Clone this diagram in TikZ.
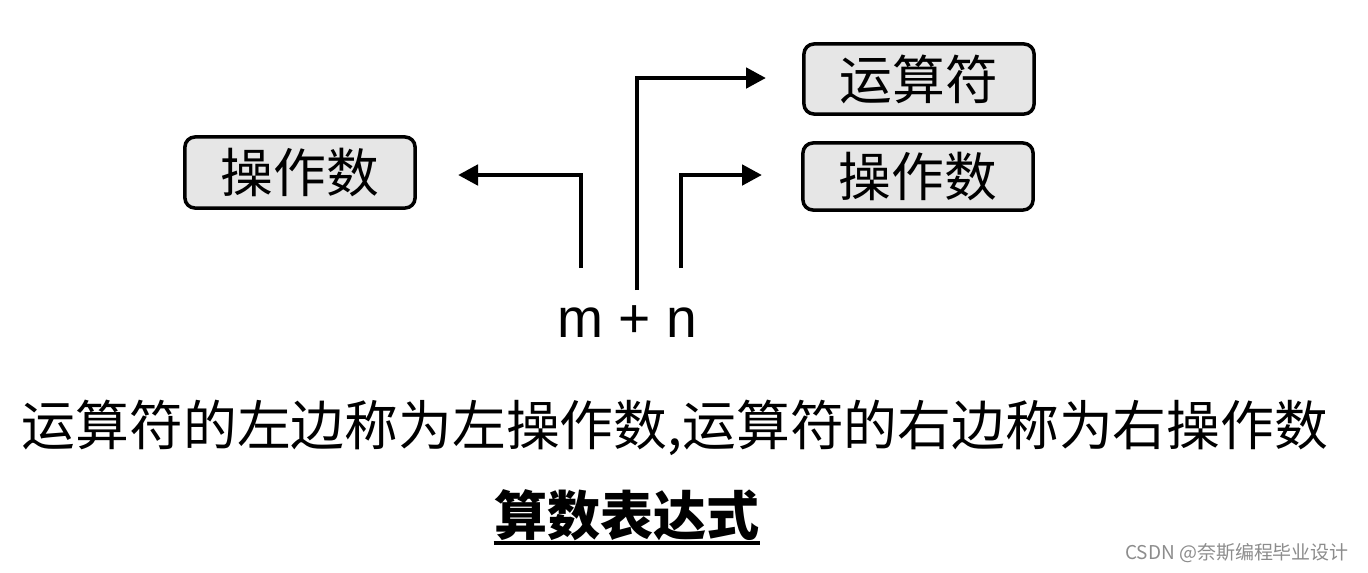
\documentclass[tikz,border=0pt]{standalone}
\usepackage{fontspec}
\newfontfamily\cjk{Noto Sans CJK SC}
\newfontfamily\lat{Liberation Sans}
\usetikzlibrary{arrows.meta}
\definecolor{boxfill}{RGB}{230,230,230}
\definecolor{wmgray}{RGB}{140,140,140}
\begin{document}
\begin{tikzpicture}[x=0.01cm,y=-0.01cm,
  termbox/.style={draw=black,line width=1pt,fill=boxfill,rounded corners=0.1cm,
    minimum width=2.3cm,minimum height=0.7cm,inner sep=0pt,
    font=\cjk\fontsize{15pt}{18pt}\selectfont},
  plain/.style={inner sep=0pt},
  conn/.style={line width=1.35pt,-{Triangle[length=0.2cm,width=0.2cm]}}]
\useasboundingbox (0,0) rectangle (1368,572);
% boxes
\node[termbox,minimum width=2.3cm,minimum height=0.71cm] (lop) at (300,172.5) {操作数};
\node[termbox] (op) at (919,79) {运算符};
\node[termbox,minimum height=0.67cm] (rop) at (918,176.5) {操作数};
% expression
\node[plain,font=\lat\fontsize{15.7pt}{18pt}\selectfont] (expr) at (627,322) {m + n};
\coordinate (ms) at (581,268);
\coordinate (ps) at (637,290);
\coordinate (ns) at (681,268);
\coordinate (me) at (458,175);
\coordinate (pe) at (766,78);
\coordinate (ne) at (762,175);
\draw[conn] (ms) |- (me);
\draw[conn] (ps) |- (pe);
\draw[conn] (ns) |- (ne);
% sentence
\node[plain,font=\cjk\fontsize{15.3pt}{18pt}\selectfont] (sent) at (675,428) {运算符的左边称为左操作数,运算符的右边称为右操作数};
% title
\node[plain,font=\cjk\bfseries\fontsize{15.1pt}{18pt}\selectfont] (title) at (627,515) {算数表达式};
\draw[line width=0.9pt] (title.west |- 0,543) -- (title.east |- 0,543);
% watermark
\node[plain,text=wmgray,font=\cjk\fontsize{5.4pt}{6pt}\selectfont] (wm) at (1237,553) {CSDN @奈斯编程毕业设计};
\end{tikzpicture}
\end{document}
